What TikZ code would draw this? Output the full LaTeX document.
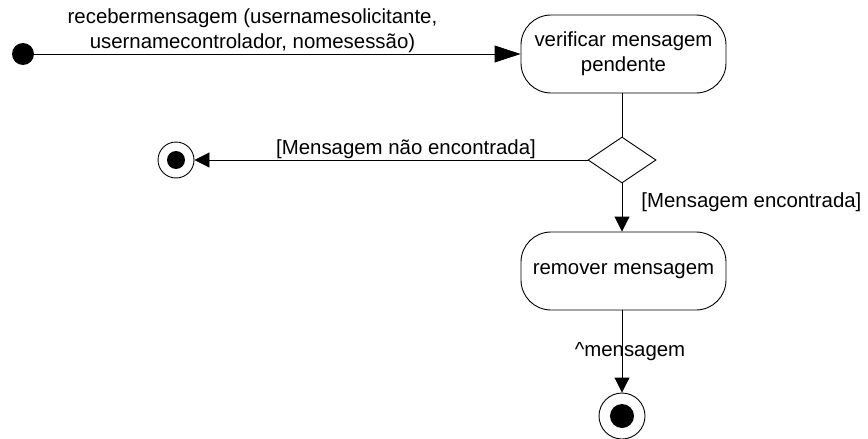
\documentclass[tikz,border=0pt]{standalone}
\usepackage{fontspec}
\setmainfont{Liberation Sans}
\usetikzlibrary{arrows.meta,positioning,shapes.geometric}

\begin{document}
\begin{tikzpicture}[x=1pt,y=-1pt,line width=0.9pt,
  font=\fontsize{20.4}{25}\selectfont,
  activity/.style={draw,rounded corners=30pt,minimum width=205pt,minimum height=78pt,align=center},
  decision/.style={draw,diamond,minimum width=68pt,minimum height=46pt,inner sep=0pt,aspect=1.48},
  flow/.style={-{Triangle[length=15pt,width=15pt]}},
  guard/.style={inner sep=1pt}]
\useasboundingbox (0,0) rectangle (868,439);
\node[circle,fill,minimum size=22pt,inner sep=0pt] (inicio) at (23,54) {};
\node[activity] (verificar) at (623.5,54) {verificar mensagem\\pendente};
\node[decision] (decisao) at (622,160) {};
\node[activity] (remover) at (623.5,271) {remover mensagem};
\node[circle,draw,minimum size=36pt,inner sep=0pt] (fimA) at (176,160) {};
\fill (fimA.center) circle (9pt);
\node[circle,draw,minimum size=46pt,inner sep=0pt] (fimB) at (622,416) {};
\fill (fimB.center) circle (12pt);
% transicoes
\draw[-{Triangle[length=26pt,width=17pt]}] (inicio) -- (verificar)
  node[midway,above,guard,align=center,xshift=-25pt] {recebermensagem (usernamesolicitante,\\usernamecontrolador, nomesessão)};
\draw (verificar.south -| decisao.north) -- (decisao.north);
\draw[flow] (decisao.west) -- (fimA)
  node[midway,above,guard,xshift=15pt] {[Mensagem não encontrada]};
\draw[flow] (decisao.south) -- (decisao.south |- remover.north)
  node[midway,right=18pt,yshift=5pt,guard] {[Mensagem encontrada]};
\draw[flow] (remover.south -| fimB.north) -- (fimB.north)
  node[midway,xshift=8pt,guard] {\textasciicircum mensagem};
\end{tikzpicture}
\end{document}
